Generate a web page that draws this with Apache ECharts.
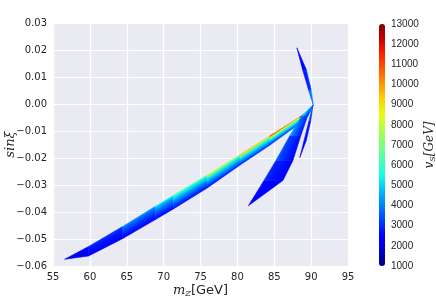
<!DOCTYPE html>
<html>
<head>
<meta charset="utf-8">
<script src="https://cdn.jsdelivr.net/npm/echarts@6/dist/echarts.min.js"></script>
<style>html,body{margin:0;padding:0;background:#fff}#c{width:436px;height:308px}</style>
</head>
<body>
<div id="c"></div>
<script>
// ---- axis ranges / ticks ----
const xRange = [55, 95];
const xStep = 5;
const yRange = [-0.06, 0.03];
const yStep = 0.01;
const cbRange = [1000, 13000];
const cbStep = 1000;

// ---- main band: lower (low v_S) edge, upper (high v_S) edge ----
const bandEdgeA = [[56.58,-0.0575],[59.82,-0.0563],[64.42,-0.0499],[68.88,-0.0428],[71.31,-0.0389],[75.91,-0.0311],[80.37,-0.0226],[84.42,-0.0152],[88.47,-0.0072],[89.55,-0.0045],[90.3,-0.0003]];
const bandEdgeB = [[56.58,-0.0575],[59.82,-0.0528],[64.42,-0.0454],[68.88,-0.0379],[71.31,-0.0339],[75.91,-0.0263],[80.37,-0.0187],[84.42,-0.0118],[88.47,-0.0048],[89.55,-0.0026],[90.3,-0.0003]];
const bandVA = [2000,2200,2300,2400,2500,2700,2900,3100,3300,3500,3500];
const bandVM = [2000,2400,2900,3500,3900,4500,4900,5200,5600,5800,5000];
const bandVB = [2000,2700,3700,5000,5800,7200,8700,10000,11500,12000,6000];

// ---- lower blue fork ----
const forkEdgeA = [[81.49,-0.0377],[86.18,-0.0283],[87.53,-0.0209],[88.61,-0.0117],[89.55,-0.0043],[90.25,-0.0004]];
const forkEdgeB = [[81.49,-0.0377],[83.61,-0.0283],[85.23,-0.0209],[87.12,-0.0117],[88.74,-0.0043],[90.22,-0.0004]];
const forkVA = [2300,2400,2500,2600,3000,3500];
const forkVM = [2300,2600,2800,3200,3800,4500];
const forkVB = [2300,2800,3200,3800,4800,5500];

// ---- narrow sliver ----
const sliverEdgeA = [[88.47,-0.0198],[89.34,-0.0135],[89.96,-0.0061],[90.25,-0.0004]];
const sliverEdgeB = [[88.47,-0.0198],[89.04,-0.0135],[89.72,-0.0061],[90.22,-0.0004]];
const sliverVA = [2300,2400,2800,3500];
const sliverVM = [2300,2400,2800,3500];
const sliverVB = [2300,2500,3000,4000];

// ---- upper branch ----
const upEdgeA = [[88.07,0.0208],[89.35,0.0127],[90.0,0.0053],[90.3,-0.0003]];
const upEdgeB = [[88.07,0.0208],[88.88,0.0123],[89.69,0.0049],[90.28,-0.0003]];
const upVA = [2200,2600,3500,5000];
const upVM = [2200,2500,3200,4500];
const upVB = [2200,2500,3000,4000];

// jet colormap (matplotlib segment data)
const JET = {
  r: [[0,0],[0.35,0],[0.66,1],[0.89,1],[1,0.5]],
  g: [[0,0],[0.125,0],[0.375,1],[0.64,1],[0.91,0],[1,0]],
  b: [[0,0.5],[0.11,1],[0.34,1],[0.65,0],[1,0]]
};
function seg(tab, t) {
  for (let i = 0; i < tab.length - 1; i++) {
    const a = tab[i], b = tab[i+1];
    if (t <= b[0]) return a[1] + (b[1]-a[1]) * (t - a[0]) / (b[0]-a[0]);
  }
  return tab[tab.length-1][1];
}
function jet(v) {
  let t = (v - cbRange[0]) / (cbRange[1] - cbRange[0]);
  t = Math.max(0, Math.min(1, t));
  const c = k => Math.round(255 * seg(JET[k], t));
  return 'rgb(' + c('r') + ',' + c('g') + ',' + c('b') + ')';
}
const jetSamples = [];
for (let i = 0; i <= 16; i++) jetSamples.push(jet(cbRange[0] + i * (cbRange[1]-cbRange[0]) / 16));

function buildSegs(eA, eB, vA, vM, vB) {
  const out = [];
  for (let i = 0; i < eA.length - 1; i++) {
    out.push([eA[i][0], eA[i][1], eB[i][0], eB[i][1], eA[i+1][0], eA[i+1][1], eB[i+1][0], eB[i+1][1],
      (vA[i]+vA[i+1])/2, (vM[i]+vM[i+1])/2, (vB[i]+vB[i+1])/2]);
  }
  return out;
}

function renderSeg(params, api) {
  const pA0 = api.coord([api.value(0), api.value(1)]);
  const pB0 = api.coord([api.value(2), api.value(3)]);
  const pA1 = api.coord([api.value(4), api.value(5)]);
  const pB1 = api.coord([api.value(6), api.value(7)]);
  const vA = api.value(8), vM = api.value(9), vB = api.value(10);
  const mA = [(pA0[0]+pA1[0])/2, (pA0[1]+pA1[1])/2];
  const mB = [(pB0[0]+pB1[0])/2, (pB0[1]+pB1[1])/2];
  let dx = (pA1[0]+pB1[0]-pA0[0]-pB0[0])/2, dy = (pA1[1]+pB1[1]-pA0[1]-pB0[1])/2;
  const len = Math.hypot(dx, dy) || 1;
  dx /= len; dy /= len;
  const n = [-dy, dx];
  const proj = (mB[0]-mA[0])*n[0] + (mB[1]-mA[1])*n[1];
  let end = [mA[0] + n[0]*proj, mA[1] + n[1]*proj];
  if (Math.abs(proj) < 0.5) end = [mA[0] + n[0], mA[1] + n[1]];
  const grad = {
    type: 'linear', x: mA[0], y: mA[1], x2: end[0], y2: end[1], global: true,
    colorStops: [
      {offset: 0, color: jet(vA)},
      {offset: 0.55, color: jet(vM)},
      {offset: 0.85, color: jet((vM+vB)/2)},
      {offset: 1, color: jet(vB)}
    ]
  };
  return {
    type: 'polygon',
    shape: {points: [pA0, pA1, pB1, pB0]},
    style: {fill: grad, stroke: grad, lineWidth: 0.6}
  };
}

function customSeries(data) {
  return {
    type: 'custom', xAxisIndex: 0, yAxisIndex: 0,
    renderItem: renderSeg,
    encode: {x: [0,2,4,6], y: [1,3,5,7]},
    data: data,
    silent: true
  };
}

const labelColor = '#262626';
const chart = echarts.init(document.getElementById('c'), null, {renderer: 'canvas'});
chart.setOption({
  animation: false,
  backgroundColor: '#fff',
  grid: [
    {left: 53, right: 88, top: 23, bottom: 42, show: true, backgroundColor: '#EAEAF2', borderWidth: 0,
     containLabel: false, outerBoundsMode: 'none'},
    {left: 379, width: 6, top: 24, height: 242, show: false, containLabel: false, outerBoundsMode: 'none'}
  ],
  xAxis: [
    {
      type: 'value', gridIndex: 0, min: xRange[0], max: xRange[1], interval: xStep,
      axisLine: {show: false}, axisTick: {show: false},
      splitLine: {show: true, lineStyle: {color: '#ffffff', width: 1.2}},
      axisLabel: {color: labelColor, fontSize: 10, fontFamily: 'DejaVu Sans', margin: 6},
      name: '{i|m}{s|Z}{n|[GeV]}', nameLocation: 'middle', nameGap: 18, nameMoveOverlap: false,
      nameTextStyle: {
        rich: {
          i: {fontFamily: 'DejaVu Serif', fontStyle: 'italic', fontSize: 13, color: labelColor},
          s: {fontFamily: 'DejaVu Serif', fontStyle: 'italic', fontSize: 8, color: labelColor, padding: [6,0,0,0]},
          n: {fontFamily: 'DejaVu Sans', fontSize: 13, color: labelColor}
        }
      }
    },
    {type: 'value', gridIndex: 1, min: 0, max: 1, show: false}
  ],
  yAxis: [
    {
      type: 'value', gridIndex: 0, min: yRange[0], max: yRange[1], interval: yStep,
      axisLine: {show: false}, axisTick: {show: false},
      splitLine: {show: true, lineStyle: {color: '#ffffff', width: 1.2}},
      axisLabel: {
        color: labelColor, fontSize: 10, fontFamily: 'DejaVu Sans', margin: 6,
        formatter: v => (Math.abs(v) < 1e-9 ? '0.00' : (v < 0 ? '\u2212' : '') + Math.abs(v).toFixed(2))
      },
      name: '{i|sin\u03be}', nameLocation: 'middle', nameGap: 36, nameRotate: 90, nameMoveOverlap: false,
      nameTextStyle: {
        rich: {i: {fontFamily: 'DejaVu Serif', fontStyle: 'italic', fontSize: 13, color: labelColor}}
      }
    },
    {
      type: 'value', gridIndex: 1, position: 'right', min: cbRange[0], max: cbRange[1], interval: cbStep,
      axisLine: {show: false}, axisTick: {show: false}, splitLine: {show: false},
      axisLabel: {color: labelColor, fontSize: 10, fontFamily: 'Liberation Sans', margin: 6,
        formatter: v => String(Math.round(v))},
      name: '{i|v}{s|S}{i|[GeV]}', nameLocation: 'middle', nameGap: 38, nameRotate: 90, nameMoveOverlap: false,
      nameTextStyle: {
        rich: {
          i: {fontFamily: 'DejaVu Serif', fontStyle: 'italic', fontSize: 12, color: labelColor},
          s: {fontFamily: 'DejaVu Serif', fontStyle: 'italic', fontSize: 8, color: labelColor, padding: [6,0,0,0]}
        }
      }
    }
  ],
  visualMap: {
    type: 'continuous', min: cbRange[0], max: cbRange[1], seriesIndex: 4,
    orient: 'vertical', left: 379, top: 24, itemWidth: 6, itemHeight: 242, padding: 0,
    calculable: false, realtime: false, hoverLink: false, showLabel: false, text: null,
    inRange: {color: jetSamples}
  },
  series: [
    customSeries(buildSegs(bandEdgeA, bandEdgeB, bandVA, bandVM, bandVB)),
    customSeries(buildSegs(forkEdgeA, forkEdgeB, forkVA, forkVM, forkVB)),
    customSeries(buildSegs(sliverEdgeA, sliverEdgeB, sliverVA, sliverVM, sliverVB)),
    customSeries(buildSegs(upEdgeA, upEdgeB, upVA, upVM, upVB)),
    {type: 'scatter', xAxisIndex: 1, yAxisIndex: 1, data: [], silent: true}
  ]
});
</script>
</body>
</html>
